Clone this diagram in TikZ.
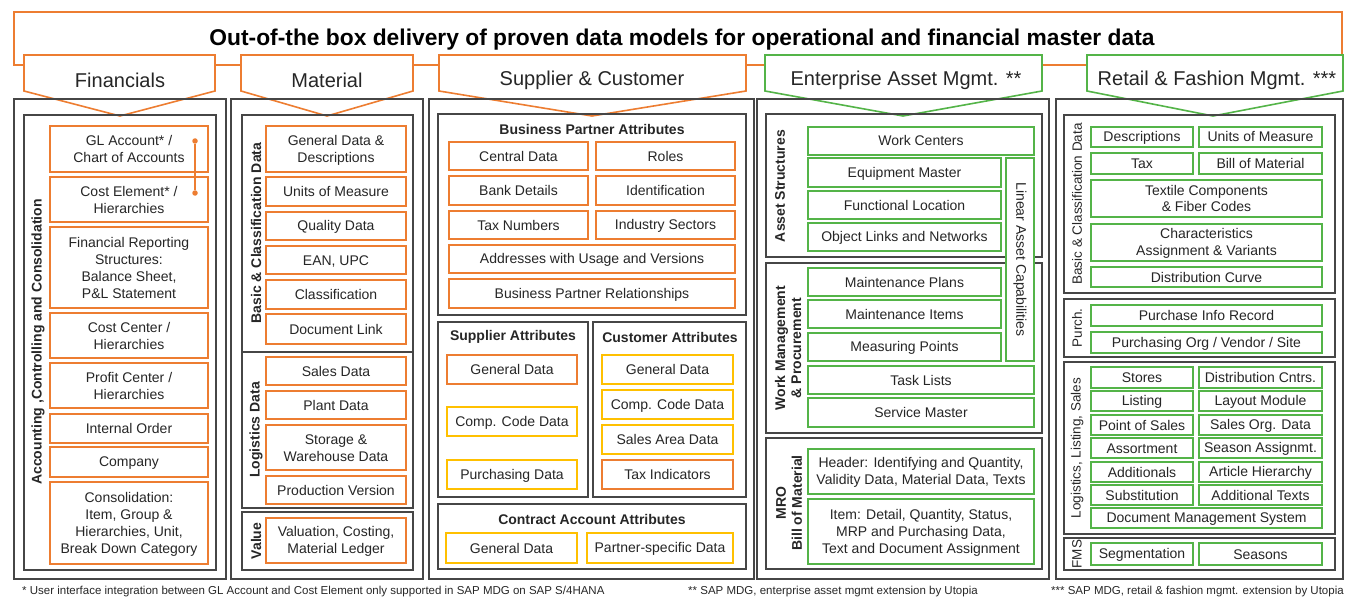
\documentclass[tikz,border=0pt]{standalone}
\usepackage{fontspec}
\setmainfont{Liberation Sans}
\definecolor{orng}{RGB}{237,125,49}
\definecolor{yel}{RGB}{255,192,0}
\definecolor{grn}{RGB}{84,180,72}
\definecolor{pgray}{RGB}{70,70,70}
\definecolor{txt}{RGB}{38,38,38}
\newcommand\vs{\rule[-2pt]{0pt}{14pt}}
\newcommand\bx[7]{%
  \pgfmathsetmacro\bxw{#5-#3}\pgfmathsetmacro\bxh{#6-#4}%
  \pgfmathsetmacro\bxx{(#3+#5)/2}\pgfmathsetmacro\bxy{(#4+#6)/2}%
  \node[#1,minimum width=\bxw pt,minimum height=\bxh pt] (#2) at (\bxx,\bxy) {\vs #7\vs};}
\tikzset{
  base/.style={inner sep=0pt, outer sep=0pt, align=center, text=txt, font=\fontsize{14}{17}\selectfont},
  obox/.style={base, draw=orng, line width=2pt, fill=white},
  ybox/.style={base, draw=yel, line width=2pt, fill=white},
  gbox/.style={base, draw=grn, line width=2pt, fill=white},
  rbox/.style={gbox, font=\fontsize{14}{16.5}\selectfont},
  panel/.style={inner sep=0pt, outer sep=0pt, draw=pgray, line width=2pt},
  subpanel/.style={inner sep=0pt, outer sep=0pt, draw=pgray, line width=1.6pt},
  vlab/.style={rotate=90, inner sep=0pt, align=center, text=txt, font=\bfseries\fontsize{14}{16}\selectfont},
  vlabr/.style={rotate=90, inner sep=0pt, align=center, text=txt, font=\fontsize{13.5}{16}\selectfont},
  head/.style={inner sep=0pt, text=txt, font=\bfseries\fontsize{14}{16}\selectfont},
  hdrO/.style={draw=orng, line width=1.6pt, fill=white, line join=miter},
  hdrG/.style={draw=grn, line width=1.6pt, fill=white, line join=miter},
  hlab/.style={inner sep=0pt, text=txt, font=\fontsize{20}{24}\selectfont},
  foot/.style={inner sep=0pt, anchor=west, text=txt, font=\fontsize{11.5}{13}\selectfont},
  dotn/.style={circle, fill=orng, inner sep=0pt, minimum size=5.5pt},
}
\begin{document}
\begin{tikzpicture}[x=1pt,y=-1pt]
\useasboundingbox (0,0) rectangle (1350,599);
% title banner
\draw[draw=orng, line width=1.6pt] (14,12) rectangle (1342,65);
\node[inner sep=0pt, font=\bfseries\fontsize{22.8}{26}\selectfont] (title) at (682,40) {Out-of-the box delivery of proven data models for operational and financial master data};
% header pentagons
\draw[hdrO] (24,55) -- (215,55) -- (215,91) -- (120,116) -- (24,91) -- cycle;
\node[hlab] (hfin) at (120,80) {Financials};
\draw[hdrO] (241,55) -- (413,55) -- (413,91) -- (327,116) -- (241,91) -- cycle;
\node[hlab] (hmat) at (327,80) {Material};
\draw[hdrO] (439,55) -- (746,55) -- (746,91) -- (592,116) -- (439,91) -- cycle;
\node[hlab] (hsc) at (592,80) {Supplier \& Customer};
\draw[hdrG] (765,55) -- (1042,55) -- (1042,91) -- (903,116) -- (765,91) -- cycle;
\node[hlab] (heam) at (906,80) {Enterprise Asset Mgmt. **};
\draw[hdrG] (1087,55) -- (1343,55) -- (1343,91) -- (1213,116) -- (1087,91) -- cycle;
\node[hlab] (hret) at (1217,80) {Retail \& Fashion Mgmt. ***};

% ================= Financials =================
\bx{panel}{finO}{14}{99}{226}{579}{}
\bx{subpanel}{finI}{24}{115}{216}{570}{}
\node[vlab] (finL) at (38,342) {Accounting ,Controlling and Consolidation};
\bx{obox}{gl}{50}{126}{208}{172}{GL Account* /\\Chart of Accounts}
\bx{obox}{ce}{50}{177}{208}{222}{Cost Element* /\\Hierarchies}
\bx{obox}{fr}{50}{227}{208}{308}{Financial Reporting\\Structures:\\Balance Sheet,\\P\&L Statement}
\bx{obox}{cc}{50}{313}{208}{358}{Cost Center /\\Hierarchies}
\bx{obox}{pc}{50}{363}{208}{408}{Profit Center /\\Hierarchies}
\bx{obox}{io}{50}{414}{208}{443}{Internal Order}
\bx{obox}{comp}{50}{447}{208}{477}{Company}
\bx{obox}{cons}{50}{482}{208}{564}{Consolidation:\\Item, Group \&\\Hierarchies, Unit,\\Break Down Category}
\node[dotn] (d1) at (195,141) {};
\node[dotn] (d2) at (195,193) {};
\draw[draw=orng, line width=1.6pt] (d1) -- (d2);

% ================= Material =================
\bx{panel}{matO}{231}{99}{423}{579}{}
\bx{subpanel}{matB}{242}{115}{413}{352}{}
\bx{subpanel}{matL}{242}{352}{413}{508}{}
\bx{subpanel}{matV}{242}{512}{413}{570}{}
\node[vlab] (matBL) at (256,233) {Basic \& Classification Data};
\node[vlab] (matLL) at (256,430) {Logistics Data};
\node[vlab] (matVL) at (256,541) {Value};
\bx{obox}{gd}{266}{126}{406}{172}{General Data \&\\Descriptions}
\bx{obox}{uom}{266}{177}{406}{206}{Units of Measure}
\bx{obox}{qd}{266}{212}{406}{240}{Quality Data}
\bx{obox}{ean}{266}{246}{406}{274}{EAN, UPC}
\bx{obox}{cls}{266}{280}{406}{309}{Classification}
\bx{obox}{dl}{266}{314}{406}{344}{Document Link}
\bx{obox}{sd}{266}{357}{406}{385}{Sales Data}
\bx{obox}{pd}{266}{391}{406}{419}{Plant Data}
\bx{obox}{sw}{266}{425}{406}{470}{Storage \&\\Warehouse Data}
\bx{obox}{pv}{266}{476}{406}{504}{Production Version}
\bx{obox}{val}{266}{518}{406}{563}{Valuation, Costing,\\Material Ledger}

% ================= Supplier & Customer =================
\bx{panel}{scO}{429}{99}{754}{579}{}
\bx{subpanel}{bp}{438}{114}{746}{315}{}
\node[head] (bpH) at (592,129) {Business Partner Attributes};
\bx{obox}{cd}{449}{142}{588}{170}{Central Data}
\bx{obox}{rol}{596}{142}{735}{170}{Roles}
\bx{obox}{bd}{449}{176}{588}{205}{Bank Details}
\bx{obox}{idf}{596}{176}{735}{205}{Identification}
\bx{obox}{tn}{449}{211}{588}{239}{Tax Numbers}
\bx{obox}{ins}{596}{211}{735}{239}{Industry Sectors}
\bx{obox}{addr}{449}{245}{735}{273}{Addresses with Usage and Versions}
\bx{obox}{bpr}{449}{279}{735}{308}{Business Partner Relationships}
\bx{subpanel}{sup}{438}{322}{588}{497}{}
\node[head] (supH) at (513,337) {Supplier Attributes};
\bx{obox}{sgd}{447}{355}{577}{384}{General Data}
\bx{ybox}{scc}{447}{407}{577}{436}{Comp. Code Data}
\bx{ybox}{spd}{447}{460}{577}{489}{Purchasing Data}
\bx{subpanel}{cus}{593}{322}{746}{497}{}
\node[head] (cusH) at (670,337) {Customer Attributes};
\bx{ybox}{cgd}{602}{355}{733}{384}{General Data}
\bx{ybox}{ccc}{602}{390}{733}{419}{Comp. Code Data}
\bx{ybox}{csa}{602}{425}{733}{454}{Sales Area Data}
\bx{obox}{cti}{602}{460}{733}{489}{Tax Indicators}
\bx{subpanel}{ca}{438}{504}{746}{569}{}
\node[head] (caH) at (592,519) {Contract Account Attributes};
\bx{ybox}{cagd}{446}{533}{577}{563}{General Data}
\bx{ybox}{caps}{587}{533}{733}{563}{Partner-specific Data}

% ================= Enterprise Asset Mgmt =================
\bx{panel}{eamO}{757}{99}{1049}{579}{}
\bx{subpanel}{eamA}{766}{114}{1042}{257}{}
\bx{subpanel}{eamW}{766}{263}{1042}{433}{}
\bx{subpanel}{eamM}{766}{438}{1042}{569}{}
\node[vlab] (eamAL) at (780,186) {Asset Structures};
\node[vlab] (eamWL) at (788,348) {Work Management\\\& Procurement};
\node[vlab] (eamML) at (789,503) {MRO\\Bill of Material};
\bx{gbox}{wc}{808}{127}{1034}{155}{Work Centers}
\bx{gbox}{em}{808}{158}{1001}{187}{Equipment Master}
\bx{gbox}{fl}{808}{191}{1001}{219}{Functional Location}
\bx{gbox}{ol}{808}{223}{1001}{251}{Object Links and Networks}
\bx{gbox}{lac}{1006}{158}{1034}{361}{}
\node[rotate=-90, inner sep=0pt, text=txt, font=\fontsize{14}{17}\selectfont] (lacT) at (lac.center) {Linear Asset Capabilities};
\bx{gbox}{mp}{808}{268}{1001}{296}{Maintenance Plans}
\bx{gbox}{mi}{808}{300}{1001}{328}{Maintenance Items}
\bx{gbox}{mpt}{808}{333}{1001}{361}{Measuring Points}
\bx{gbox}{tl}{808}{366}{1034}{394}{Task Lists}
\bx{gbox}{sm}{808}{398}{1034}{427}{Service Master}
\bx{gbox}{hdr}{808}{449}{1034}{494}{Header: Identifying and Quantity,\\Validity Data, Material Data, Texts}
\bx{gbox}{itm}{808}{499}{1034}{564}{Item: Detail, Quantity, Status,\\MRP and Purchasing Data,\\Text and Document Assignment}

% ================= Retail & Fashion =================
\bx{panel}{rtO}{1056}{99}{1343}{579}{}
\bx{subpanel}{rtB}{1064}{115}{1335}{293}{}
\bx{subpanel}{rtP}{1064}{299}{1335}{357}{}
\bx{subpanel}{rtL}{1064}{362}{1335}{534}{}
\bx{subpanel}{rtF}{1064}{538}{1335}{570}{}
\node[vlabr] (rtBL) at (1077,204) {Basic \& Classification Data};
\node[vlabr] (rtPL) at (1077,328) {Purch.};
\node[vlabr] (rtLL) at (1077,448) {Logistics, Listing, Sales};
\node[vlabr] (rtFL) at (1077,554) {FMS};
\bx{rbox}{desc}{1091}{127}{1193}{147}{Descriptions}
\bx{rbox}{ruom}{1199}{127}{1322}{147}{Units of Measure}
\bx{rbox}{tax}{1091}{153}{1193}{174}{Tax}
\bx{rbox}{bom}{1199}{153}{1322}{174}{Bill of Material}
\bx{rbox}{tex}{1091}{180}{1322}{217}{Textile Components\\\& Fiber Codes}
\bx{rbox}{chr}{1091}{224}{1322}{261}{Characteristics\\Assignment \& Variants}
\bx{rbox}{dc}{1091}{267}{1322}{287}{Distribution Curve}
\bx{rbox}{pir}{1091}{305}{1322}{326}{Purchase Info Record}
\bx{rbox}{po}{1091}{332}{1322}{353}{Purchasing Org / Vendor / Site}
\bx{rbox}{sto}{1091}{367}{1193}{388}{Stores}
\bx{rbox}{dcn}{1199}{367}{1322}{388}{Distribution Cntrs.}
\bx{rbox}{lst}{1091}{391}{1193}{411}{Listing}
\bx{rbox}{lay}{1199}{391}{1322}{411}{Layout Module}
\bx{rbox}{pos}{1091}{415}{1193}{435}{Point of Sales}
\bx{rbox}{sod}{1199}{415}{1322}{435}{Sales Org. Data}
\bx{rbox}{ast}{1091}{438}{1193}{458}{Assortment}
\bx{rbox}{sea}{1199}{438}{1322}{458}{Season Assignmt.}
\bx{rbox}{add}{1091}{462}{1193}{482}{Additionals}
\bx{rbox}{ah}{1199}{462}{1322}{482}{Article Hierarchy}
\bx{rbox}{sub}{1091}{485}{1193}{505}{Substitution}
\bx{rbox}{at}{1199}{485}{1322}{505}{Additional Texts}
\bx{rbox}{dms}{1091}{508}{1322}{528}{Document Management System}
\bx{rbox}{seg}{1091}{543}{1193}{565}{Segmentation}
\bx{rbox}{ssn}{1199}{543}{1322}{565}{Seasons}

% ================= footnotes =================
\node[foot] (f1) at (22,592) {* User interface integration between GL Account and Cost Element only supported in SAP MDG on SAP S/4HANA};
\node[foot] (f2) at (688,592) {** SAP MDG, enterprise asset mgmt extension by Utopia};
\node[foot] (f3) at (1051,592) {*** SAP MDG, retail \& fashion mgmt. extension by Utopia};
\end{tikzpicture}
\end{document}
